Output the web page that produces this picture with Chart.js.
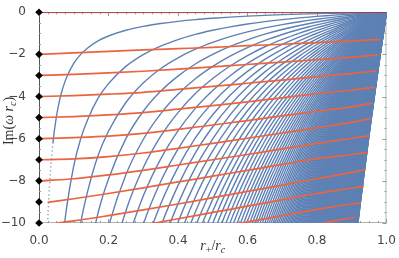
<!DOCTYPE html>
<html>
<head>
<meta charset="utf-8">
<script src="https://cdn.jsdelivr.net/npm/chart.js@4"></script>
<style>
  html, body { margin: 0; padding: 0; background: #fff; }
  #wrap { width: 399px; height: 258px; }
</style>
</head>
<body>
<div id="wrap"><canvas id="qnm-chart" width="399" height="258"></canvas></div>
<script>
// fundamental branch of the blue family, Im(w rc) vs r+/rc
const fundX = [0.015, 0.02, 0.025, 0.03, 0.04, 0.05, 0.06, 0.07, 0.08, 0.1, 0.12, 0.14, 0.17, 0.2,
  0.25, 0.3, 0.35, 0.4, 0.45, 0.5, 0.55, 0.6, 0.65, 0.7, 0.75, 0.775, 0.8, 0.825, 0.85, 0.875,
  0.9, 0.925, 0.95, 0.975, 1.0];
const fundY = [-16.66, -12.49, -9.98, -8.31, -6.22, -4.96, -4.12, -3.52, -3.07, -2.43, -2.00, -1.70, -1.36, -1.13,
  -0.857, -0.671, -0.536, -0.433, -0.351, -0.286, -0.232, -0.187, -0.149, -0.1174, -0.0901, -0.0779, -0.0666, -0.0561, -0.0463, -0.0372,
  -0.0287, -0.0208, -0.0134, -0.0065, 0];
// overtones n = 0 .. overtoneCount-1 sit at (2n+1) times the fundamental
const overtoneCount = 218;

// red branches (start at the diamonds on the left)
const redBranchX = [
  [0, 0.1, 0.2, 0.3, 0.4, 0.5, 0.6, 0.7, 0.8, 0.9, 0.98],
  [0, 0.1, 0.2, 0.3, 0.4, 0.5, 0.6, 0.7, 0.8, 0.9, 0.975],
  [0, 0.1, 0.2, 0.3, 0.4, 0.5, 0.6, 0.7, 0.8, 0.9, 0.97],
  [0, 0.1, 0.2, 0.3, 0.4, 0.5, 0.6, 0.7, 0.8, 0.9, 0.965],
  [0, 0.1, 0.2, 0.3, 0.4, 0.5, 0.6, 0.7, 0.8, 0.9, 0.96],
  [0, 0.1, 0.2, 0.3, 0.4, 0.5, 0.6, 0.7, 0.8, 0.9, 0.955],
  [0.01, 0.1, 0.2, 0.3, 0.4, 0.5, 0.6, 0.7, 0.8, 0.9, 0.95],
  [0.025, 0.1, 0.2, 0.3, 0.4, 0.5, 0.6, 0.7, 0.8, 0.9, 0.945],
  [0.05, 0.1, 0.2, 0.3, 0.4, 0.5, 0.6, 0.7, 0.8, 0.9, 0.94],
  [0.3, 0.4, 0.5, 0.6, 0.7, 0.8, 0.9, 0.935],
  [0.55, 0.6, 0.7, 0.8, 0.9, 0.925],
  [0.8, 0.85, 0.9, 0.91]
];
const redBranchY = [
  [-2.00, -1.93, -1.86, -1.79, -1.73, -1.67, -1.59, -1.52, -1.44, -1.37, -1.29],
  [-3.00, -2.95, -2.88, -2.80, -2.70, -2.59, -2.48, -2.37, -2.25, -2.13, -2.02],
  [-4.00, -3.96, -3.89, -3.80, -3.66, -3.52, -3.37, -3.22, -3.06, -2.91, -2.78],
  [-5.00, -4.95, -4.87, -4.76, -4.60, -4.43, -4.25, -4.06, -3.87, -3.69, -3.55],
  [-6.00, -5.95, -5.88, -5.75, -5.56, -5.35, -5.14, -4.92, -4.70, -4.49, -4.31],
  [-7.00, -6.96, -6.85, -6.68, -6.46, -6.22, -5.98, -5.73, -5.48, -5.23, -5.05],
  [-8.00, -7.90, -7.72, -7.50, -7.25, -7.00, -6.75, -6.48, -6.22, -5.98, -5.87],
  [-9.02, -8.85, -8.60, -8.33, -8.05, -7.78, -7.50, -7.22, -6.95, -6.75, -6.65],
  [-10.0, -9.90, -9.65, -9.38, -9.10, -8.80, -8.50, -8.20, -7.90, -7.60, -7.45],
  [-10.1, -9.80, -9.50, -9.20, -8.90, -8.60, -8.35, -8.26],
  [-10.1, -9.95, -9.65, -9.35, -9.10, -9.05],
  [-10.1, -9.90, -9.75, -9.72]
];
const diamondY = [0, -2, -3, -4, -5, -6, -7, -8, -9, -10];
const xTicks = [0, 0.2, 0.4, 0.6, 0.8, 1.0];
const yTicks = [0, -2, -4, -6, -8, -10];

const BLUE = '#5e81b5';
const RED = '#ea6440';
const DARK_RED = '#b0281e';

const datasets = [];

datasets.push({
  label: 'dS limit',
  data: diamondY.map(v => ({ x: 0, y: v })),
  showLine: false,
  pointStyle: 'rectRot',
  pointRadius: 3.8,
  pointBackgroundColor: '#000',
  pointBorderColor: '#000',
  pointBorderWidth: 0,
  clip: false,
  order: 0
});

datasets.push({
  label: 'zero mode',
  data: [{ x: 0, y: 0 }, { x: 1, y: 0 }],
  borderColor: DARK_RED,
  borderWidth: 1.6,
  pointRadius: 0,
  order: 1
});

redBranchX.forEach((xs, i) => {
  datasets.push({
    label: 'dS branch ' + i,
    data: xs.map((x, j) => ({ x: x, y: redBranchY[i][j] })),
    borderColor: RED,
    borderWidth: 1.7,
    pointRadius: 0,
    cubicInterpolationMode: 'monotone',
    order: 1
  });
});

for (let n = 0; n < overtoneCount; n++) {
  const k = 2 * n + 1;
  datasets.push({
    label: 'n=' + n,
    data: fundX.map((x, j) => ({ x: x, y: k * fundY[j] })),
    borderColor: BLUE,
    borderWidth: 1.4,
    pointRadius: 0,
    cubicInterpolationMode: 'monotone',
    // the fundamental is only sparsely sampled where it is steep
    segment: n === 0 ? { borderDash: ctx => fundX[ctx.p1DataIndex] <= 0.04 ? [1, 3] : undefined } : undefined,
    order: 2
  });
}

// frame with inward ticks, like the original
const framePlugin = {
  id: 'frame',
  beforeDatasetsDraw(chart) {
    const { ctx, chartArea: a, scales } = chart;
    const xs = scales.x, ys = scales.y;
    ctx.save();
    ctx.lineWidth = 1;
    ctx.strokeStyle = '#b4b4b4';
    ctx.strokeRect(a.left + 0.5, a.top + 0.5, a.right - a.left - 1, a.bottom - a.top - 1);
    ctx.strokeStyle = '#555';
    ctx.beginPath();
    ctx.moveTo(a.left + 0.5, a.top);
    ctx.lineTo(a.left + 0.5, a.bottom);
    ctx.stroke();
    ctx.strokeStyle = '#9a9a9a';
    ctx.beginPath();
    for (let i = 0; i <= 40; i++) {
      const v = i * 0.025;
      const len = i % 8 === 0 ? 4 : 2;
      const px = Math.round(xs.getPixelForValue(v)) + 0.5;
      ctx.moveTo(px, a.bottom); ctx.lineTo(px, a.bottom - len);
      ctx.moveTo(px, a.top); ctx.lineTo(px, a.top + len);
    }
    for (let i = 0; i <= 20; i++) {
      const v = -i * 0.5;
      const len = i % 4 === 0 ? 4 : 2;
      const py = Math.round(ys.getPixelForValue(v)) + 0.5;
      ctx.moveTo(a.left, py); ctx.lineTo(a.left + len, py);
      ctx.moveTo(a.right, py); ctx.lineTo(a.right - len, py);
    }
    ctx.stroke();
    ctx.restore();
  }
};

function drawRuns(ctx, runs, cx, cy) {
  let w = 0;
  runs.forEach(r => { ctx.font = r.font; w += ctx.measureText(r.t).width; });
  let x = cx - w / 2;
  runs.forEach(r => {
    ctx.font = r.font;
    ctx.fillText(r.t, x, cy + (r.dy || 0));
    x += ctx.measureText(r.t).width;
  });
}

const titlePlugin = {
  id: 'titles',
  afterDraw(chart) {
    const ctx = chart.ctx;
    const a = chart.chartArea;
    const serif = '"Liberation Serif", "DejaVu Serif", serif';
    ctx.save();
    ctx.fillStyle = '#333';
    ctx.textBaseline = 'alphabetic';
    drawRuns(ctx, [
      { t: 'r', font: 'italic 14px ' + serif },
      { t: '+', font: '10px ' + serif, dy: 3 },
      { t: '/', font: '14px ' + serif },
      { t: 'r', font: 'italic 14px ' + serif },
      { t: 'c', font: 'italic 10px ' + serif, dy: 3 }
    ], (a.left + a.right) / 2, 250);
    ctx.translate(13, 121);
    ctx.rotate(-Math.PI / 2);
    drawRuns(ctx, [
      { t: 'Im(', font: '14px ' + serif },
      { t: 'ω', font: 'italic 14px ' + serif },
      { t: ' ', font: '14px ' + serif },
      { t: 'r', font: 'italic 14px ' + serif },
      { t: 'c', font: 'italic 10px ' + serif, dy: 3 },
      { t: ')', font: '14px ' + serif }
    ], 0, 0);
    ctx.restore();
  }
};

new Chart(document.getElementById('qnm-chart'), {
  type: 'line',
  data: { datasets: datasets },
  options: {
    responsive: false,
    animation: false,
    devicePixelRatio: 1,
    parsing: false,
    normalized: true,
    layout: { padding: { top: 6, right: 7, left: 0, bottom: 0 } },
    plugins: { legend: { display: false }, tooltip: { enabled: false } },
    elements: { line: { tension: 0 } },
    scales: {
      x: {
        type: 'linear', min: 0, max: 1,
        afterBuildTicks: s => { s.ticks = xTicks.map(v => ({ value: v })); },
        afterFit: s => { s.height = 35; },
        grid: { display: false },
        border: { display: false },
        ticks: { padding: 3, color: '#444', font: { family: 'DejaVu Sans', size: 12 }, callback: v => v.toFixed(1), maxRotation: 0 }
      },
      y: {
        type: 'linear', min: -10, max: 0,
        afterBuildTicks: s => { s.ticks = yTicks.map(v => ({ value: v })); },
        afterFit: s => { s.width = 39; },
        grid: { display: false },
        border: { display: false },
        ticks: { padding: 5, color: '#444', font: { family: 'DejaVu Sans', size: 12 }, callback: v => v === 0 ? '0' : '\u2212' + Math.abs(v) }
      }
    }
  },
  plugins: [framePlugin, titlePlugin]
});
</script>
</body>
</html>
